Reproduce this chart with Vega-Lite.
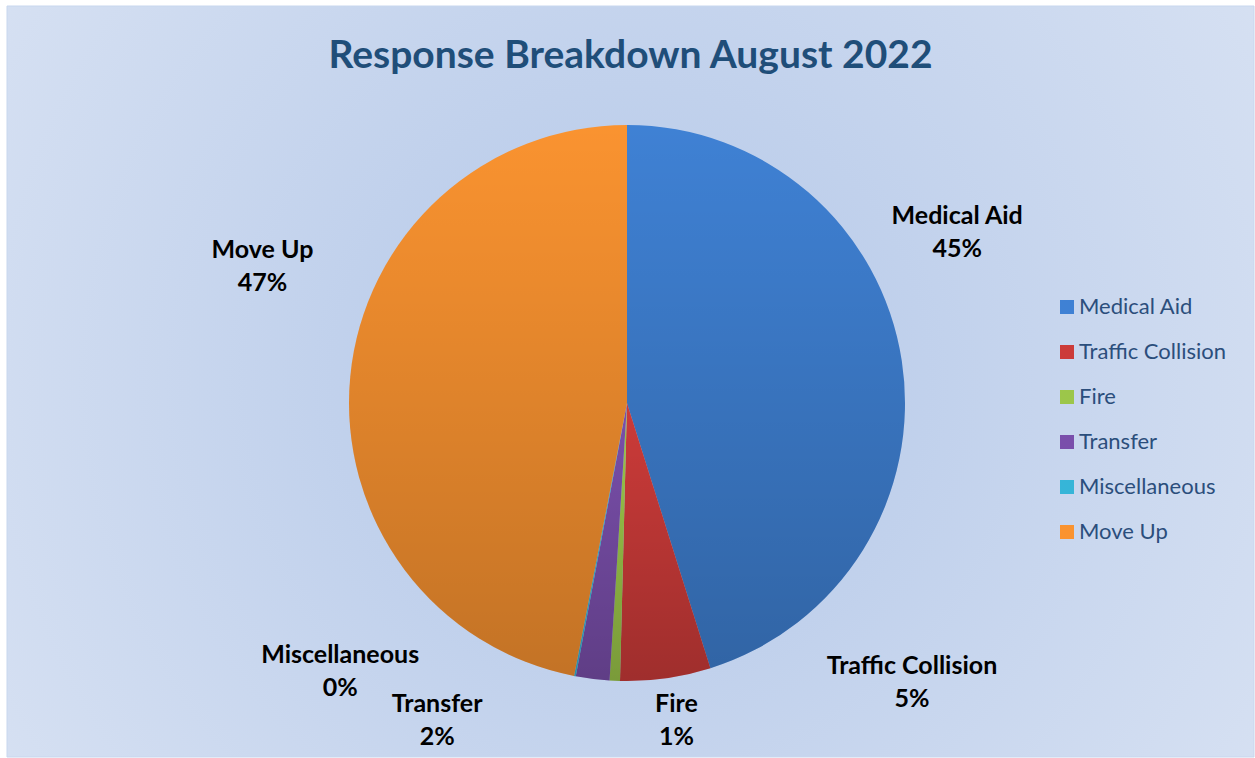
{
  "$schema": "https://vega.github.io/schema/vega-lite/v6.json",
  "width": 1255,
  "height": 758,
  "autosize": {"type": "fit", "contains": "padding"},
  "padding": {"left": 6, "top": 5, "right": 0, "bottom": 0},
  "background": "white",
  "title": {
    "text": "Response Breakdown August 2022",
    "font": "Lato",
    "fontSize": 39,
    "fontWeight": "bold",
    "color": "#1f4e79",
    "anchor": "middle",
    "frame": "group",
    "offset": -70
  },
  "config": {"view": {"stroke": null}},
  "layer": [
    {
      "data": {"values": [{}]},
      "mark": {
        "type": "rect",
        "fill": {
          "gradient": "radial",
          "x1": 0.5, "y1": 0.5, "x2": 0.5, "y2": 0.5, "r1": 0, "r2": 0.75,
          "stops": [
            {"offset": 0, "color": "#b3c7e8"},
            {"offset": 1, "color": "#dfe7f5"}
          ]
        },
        "stroke": "#c8d7ee",
        "strokeWidth": 1
      },
      "encoding": {}
    },
    {
      "data": {"name": "responses", "values": [
        {"category": "Medical Aid", "pct": 45.15},
        {"category": "Traffic Collision", "pct": 5.25},
        {"category": "Fire", "pct": 0.6},
        {"category": "Transfer", "pct": 1.95},
        {"category": "Miscellaneous", "pct": 0.1},
        {"category": "Move Up", "pct": 46.95}
      ]},
      "transform": [
        {"window": [{"op": "row_number", "as": "idx"}]},
        {"calculate": "datum.category + '\\n' + format(datum.pct / 100, '.0%')", "as": "label"}
      ],
      "layer": [
        {
          "mark": {
            "type": "arc",
            "outerRadius": 278,
            "x": {"expr": "width / 2 - 3.5"},
            "y": {"expr": "height / 2 + 21.5"},
            "stroke": null
          },
          "encoding": {
            "theta": {"field": "pct", "type": "quantitative", "stack": true},
            "order": {"field": "idx", "type": "quantitative"},
            "color": {
              "field": "category",
              "type": "nominal",
              "scale": {
                "domain": ["Medical Aid", "Traffic Collision", "Fire", "Transfer", "Miscellaneous", "Move Up"],
                "range": ["#3f81d4", "#cc3b39", "#9cc64a", "#7a4fab", "#36b5d8", "#fa9330"]
              },
              "legend": {
                "title": null,
                "orient": "none",
                "legendX": 1049,
                "legendY": 290,
                "symbolType": "square",
                "symbolSize": 196,
                "symbolStrokeWidth": 0,
                "labelFont": "Lato",
                "labelFontSize": 22,
                "labelColor": "#2b4e7c",
                "labelOffset": 1,
                "rowPadding": 23,
                "padding": 0
              }
            }
          }
        },
        {
          "mark": {
            "type": "arc",
            "outerRadius": 278,
            "x": {"expr": "width / 2 - 3.5"},
            "y": {"expr": "height / 2 + 21.5"},
            "stroke": null,
            "fill": {
              "gradient": "linear",
              "x1": 0, "y1": 0, "x2": 0, "y2": 1,
              "stops": [
                {"offset": 0, "color": "rgba(0,0,0,0)"},
                {"offset": 1, "color": "rgba(0,0,0,0.22)"}
              ]
            }
          },
          "encoding": {
            "theta": {"field": "pct", "type": "quantitative", "stack": true},
            "order": {"field": "idx", "type": "quantitative"},
            "detail": {"field": "category", "type": "nominal"}
          }
        },
        {
          "mark": {
            "type": "text",
            "radius": 330,
            "x": {"expr": "width / 2 - 3.5"},
            "y": {"expr": "height / 2 + 21.5"},
            "font": "Lato",
            "fontSize": 25,
            "fontWeight": "bold",
            "lineHeight": 33,
            "lineBreak": "\n",
            "align": "center",
            "baseline": "middle",
            "color": "black",
            "dx": {"expr": "datum.category === 'Medical Aid' ? 4 : datum.category === 'Traffic Collision' ? 239 : datum.category === 'Fire' ? 64 : datum.category === 'Transfer' ? -149 : datum.category === 'Miscellaneous' ? -225 : -36"},
            "dy": {"expr": "datum.category === 'Medical Aid' ? -137 : datum.category === 'Traffic Collision' ? -64 : datum.category === 'Fire' ? -29 : datum.category === 'Transfer' ? -26 : datum.category === 'Miscellaneous' ? -72 : -121"}
          },
          "encoding": {
            "theta": {"field": "pct", "type": "quantitative", "stack": true},
            "order": {"field": "idx", "type": "quantitative"},
            "detail": {"field": "category", "type": "nominal"},
            "text": {"field": "label"}
          }
        }
      ]
    }
  ]
}
